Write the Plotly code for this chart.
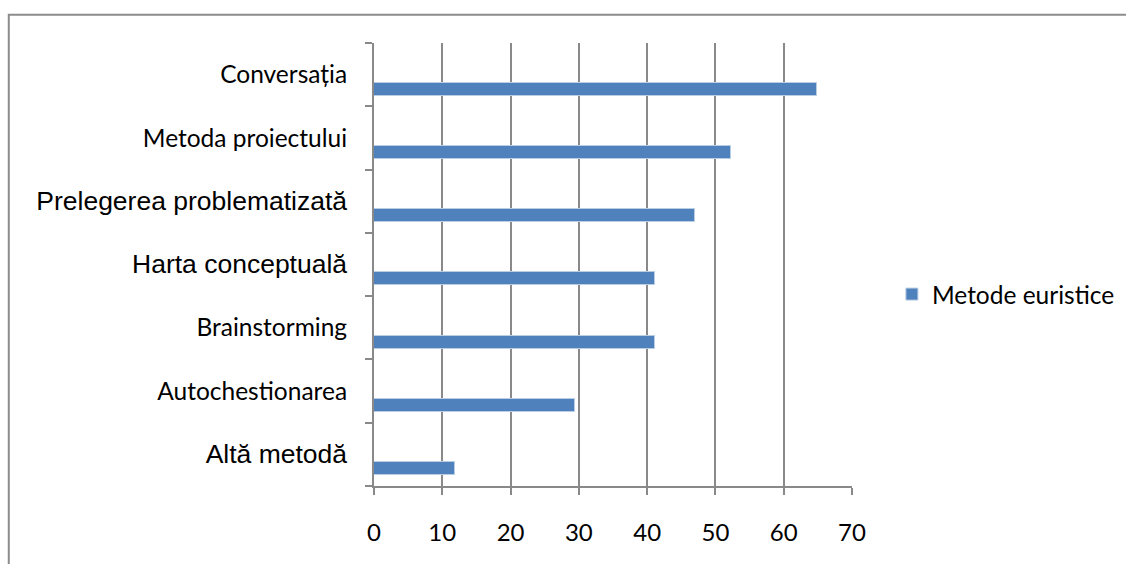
import plotly.graph_objects as go

categories = ["Conversația", "Metoda proiectului", "Prelegerea problematizată",
              "Harta conceptuală", "Brainstorming", "Autochestionarea", "Altă metodă"]
values = [64.9, 52.3, 47.0, 41.2, 41.2, 29.4, 11.8]
series_name = "Metode euristice"
x_ticks = [0, 10, 20, 30, 40, 50, 60, 70]

# labels that appear in a larger Arial-like face in the reference
arial_labels = {"Prelegerea problematizată", "Harta conceptuală", "Altă metodă"}

def label(c):
    if c in arial_labels:
        return "<span style=\"font-family:'Liberation Sans', Arial; font-size:26.5px\">" + c + "</span>"
    return c

ticktext = [label(c) for c in categories]

fig = go.Figure()
fig.add_trace(go.Bar(
    y=categories, x=values, orientation="h", name=series_name,
    marker=dict(color="#4F81BD", line=dict(color="#B9CDE5", width=1)),
    width=0.205, offset=0.125,
))

grey = "#898989"
fig.update_layout(
    width=1126, height=564,
    margin=dict(l=374, r=274, t=43, b=78, autoexpand=False),
    paper_bgcolor="white", plot_bgcolor="white",
    font=dict(family="Lato", size=24, color="black"),
    showlegend=True,
    legend=dict(x=1.0835, y=0.433, xanchor="left", yanchor="middle",
                font=dict(family="Lato", size=24.5, color="black"),
                bgcolor="rgba(0,0,0,0)"),
    xaxis=dict(range=[0, 70], tickvals=x_ticks, ticktext=[str(v) for v in x_ticks],
               showgrid=True, gridcolor=grey, gridwidth=2,
               showline=True, linecolor=grey, linewidth=2,
               ticks="outside", ticklen=7, tickwidth=2, tickcolor=grey,
               ticklabelstandoff=17, zeroline=False, automargin=False,
               tickfont=dict(family="Lato", size=24)),
    yaxis=dict(categoryorder="array", categoryarray=categories,
               tickvals=categories, ticktext=ticktext,
               autorange="reversed",
               tickson="boundaries", ticks="outside", ticklen=7, tickwidth=2, tickcolor=grey,
               showline=True, linecolor=grey, linewidth=2, showgrid=False,
               ticklabelstandoff=20, automargin=False,
               tickfont=dict(family="Lato", size=24.5)),
    bargap=0,
)
fig.add_shape(type="rect", xref="paper", yref="paper",
              x0=(9 - 374) / 477.7, x1=2.0, y0=-1.0, y1=(486 - 15) / 442.7,
              line=dict(color="#8C8C8C", width=2), fillcolor="rgba(0,0,0,0)", layer="below")

fig.write_html("out.html")
